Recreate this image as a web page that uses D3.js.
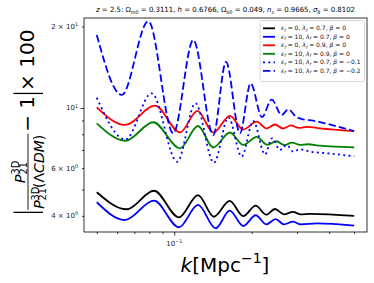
<!DOCTYPE html>
<html><head><meta charset="utf-8">
<script src="https://cdn.jsdelivr.net/npm/d3@7"></script>
<style>body{margin:0;background:#fff}svg{display:block;font-family:"DejaVu Sans",sans-serif}</style>
</head><body><svg id="c" width="374" height="283"></svg>
<script>
// ---- data (k in Mpc^-1, values = |P/P_LCDM - 1| x 100) ----
const kBlack = [0.05,0.0653,0.0834,0.1043,0.1237,0.1426,0.1642,0.1854,0.2072,0.2278,0.2462,0.2669,0.2892,0.3099,0.3385,0.5];
const vBlack = [4.89,4.23,4.95,3.95,4.77,3.97,4.54,3.99,4.36,4.04,4.24,4.05,4.14,4.05,4.07,4.0];
const kBlue = [0.05,0.0642,0.0834,0.1043,0.1237,0.1449,0.1642,0.1854,0.2072,0.2278,0.2477,0.2669,0.2892,0.3099,0.3594,0.5];
const vBlue = [4.49,3.86,4.55,3.63,4.39,3.60,4.18,3.67,4.02,3.72,3.89,3.72,3.81,3.72,3.75,3.68];
const kRed = [0.05,0.0644,0.0842,0.1053,0.1231,0.1418,0.1646,0.1854,0.2090,0.2286,0.2462,0.2645,0.2841,0.3052,0.3279,0.3684,0.5];
const vRed = [10.06,8.66,10.2,8.13,9.76,8.12,9.36,8.33,8.90,8.41,8.69,8.40,8.62,8.44,8.52,8.41,8.22];
const kGreen = [0.05,0.0646,0.0829,0.1053,0.1237,0.1418,0.1646,0.1854,0.2090,0.2302,0.2495,0.2681,0.2867,0.3080,0.3308,0.3684,0.5];
const vGreen = [8.78,7.57,8.86,7.10,8.58,7.15,8.12,7.31,7.83,7.31,7.54,7.29,7.45,7.31,7.35,7.26,7.16];
const kDot = [0.05,0.0646,0.0817,0.1027,0.1209,0.1426,0.1624,0.1828,0.2028,0.2252,0.2397,0.2575,0.2734,0.2900,0.3080,0.3368,0.3911,0.5];
const vDot = [10.91,7.65,11.33,6.33,10.41,6.28,9.22,6.62,8.95,6.74,7.73,7.00,7.31,6.90,7.04,6.90,6.81,6.63];
const kDash = [0.05,0.0625,0.0793,0.0991,0.1186,0.1418,0.1589,0.18,0.1981,0.2192,0.2390,0.2615,0.2773,0.2971,0.3172,0.3465,0.3852,0.4337,0.5];
const vDash = [18.6,11.17,20.9,8.07,17.8,7.95,14.8,8.07,12.33,9.26,10.73,9.42,9.89,9.29,9.08,8.98,8.78,8.53,8.22];

const epsLabels = ["0","10","0","10","10","10"];
const lamLabels = ["0.7","0.7","0.9","0.9","0.7","0.7"];
const betaLabels = ["0","0","0","0","\u22120.1","\u22120.2"];
const xMajorTicks = [0.1];
const xMinorTicks = [0.05,0.06,0.07,0.08,0.09,0.2,0.3,0.4,0.5];
const yMajorTicks = [10];
const yMinorTicks = [4,5,6,7,8,9,20];
const yTickLabels = [[20,"2 \u00d7 10","1"],[10,"10","1"],[6,"6 \u00d7 10","0"],[4,"4 \u00d7 10","0"]];

const seriesDefs = [
  {k:kBlack, v:vBlack, color:"#000000", dash:null},
  {k:kBlue, v:vBlue, color:"#0000ff", dash:null},
  {k:kRed, v:vRed, color:"#ff0000", dash:null},
  {k:kGreen, v:vGreen, color:"#008000", dash:null},
  {k:kDot, v:vDot, color:"#0000ff", dash:"2,3.3"},
  {k:kDash, v:vDash, color:"#0000ff", dash:"7.4,3.2"}
];

const svg = d3.select('#c');
const L=84,R=367,T=18,B=232;
const x = d3.scaleLog().domain([0.0446,0.561]).range([L,R]);
const y = d3.scaleLog().domain([3.487,21.48]).range([B,T]);

function measure(str,size,italic){
  const t=svg.append('text').attr('font-size',size).text(str);
  if(italic) t.attr('font-style','italic');
  const w=t.node().getComputedTextLength(); t.remove(); return w;
}
function rich(parent,x0,y0,parts,fs,anchor){
  const t=parent.append('text').attr('x',x0).attr('y',y0).attr('font-size',fs).attr('text-anchor',anchor||'start');
  let cur=0;
  parts.forEach(p=>{
    let off=0,size=fs;
    if(p.s==='sup'){off=-(p.up||0.42)*fs;size=fs*0.7;}
    else if(p.s==='sub'){off=(p.dn||0.22)*fs;size=fs*0.7;}
    const ts=t.append('tspan').text(p.t).attr('dy',(off-cur).toFixed(2)).attr('font-size',size.toFixed(2));
    if(p.i) ts.attr('font-style','italic');
    if(p.dx) ts.attr('dx',p.dx.toFixed(2));
    cur=off;
  });
  return t;
}

// lines
const line = d3.line().x(d=>x(d[0])).y(d=>y(d[1])).curve(d3.curveMonotoneX);
seriesDefs.forEach(s=>{
  const pts = s.k.map((k,i)=>[k,s.v[i]]);
  const p = svg.append('path').attr('d',line(pts)).attr('fill','none')
    .attr('stroke',s.color).attr('stroke-width',1.8).attr('stroke-linejoin','round');
  if(s.dash) p.attr('stroke-dasharray',s.dash);
});

// axes
const gx = svg.append('g').attr('transform',`translate(0,${B})`);
gx.call(d3.axisBottom(x).tickValues(xMajorTicks).tickSize(3.5).tickSizeOuter(0).tickFormat(''));
const gx2 = svg.append('g').attr('transform',`translate(0,${B})`);
gx2.call(d3.axisBottom(x).tickValues(xMinorTicks).tickSize(2).tickSizeOuter(0).tickFormat(''));
const gy = svg.append('g').attr('transform',`translate(${L},0)`);
gy.call(d3.axisLeft(y).tickValues(yMajorTicks).tickSize(3.5).tickSizeOuter(0).tickFormat(''));
const gy2 = svg.append('g').attr('transform',`translate(${L},0)`);
gy2.call(d3.axisLeft(y).tickValues(yMinorTicks).tickSize(2).tickSizeOuter(0).tickFormat(''));
[gx,gx2,gy,gy2].forEach(g=>{g.select('.domain').remove(); g.selectAll('line').attr('stroke','#000').attr('stroke-width',0.8);});
svg.append('rect').attr('x',L).attr('y',T).attr('width',R-L).attr('height',B-T)
  .attr('fill','none').attr('stroke','#000').attr('stroke-width',0.8);

// tick labels
xMajorTicks.forEach(v=>rich(svg,x(v),245.5,[{t:'10'},{t:'\u22121',s:'sup'}],7,'middle').attr('fill','#222'));
yTickLabels.forEach(d=>rich(svg,78,y(d[0])+2.5,[{t:d[1]},{t:d[2],s:'sup'}],7,'end').attr('fill','#222'));

// title
rich(svg,225.5,12,[
  {t:'z',i:1},{t:' = 2.5: \u03a9'},{t:'m0',s:'sub'},{t:' = 0.3111, '},{t:'h',i:1},{t:' = 0.6766, \u03a9'},
  {t:'b0',s:'sub'},{t:' = 0.049, '},{t:'n',i:1},{t:'s',s:'sub',i:1},{t:' = 0.9665, '},{t:'\u03c3',i:1},{t:'8',s:'sub'},{t:' = 0.8102'}
],7.2,'middle').attr('textLength',259).attr('lengthAdjust','spacingAndGlyphs');

// x label
rich(svg,225,272,[{t:'k',i:1},{t:'[Mpc'},{t:'\u22121',s:'sup',up:0.45},{t:']'}],20,'middle');

// y label (rotated)
const yl = svg.append('g').attr('transform','translate(33.5,121.5) rotate(-90)');
const ylin = yl.append('g');
const fsM=20, fsF=14;
const wSup = measure('3D',fsF*0.7,false);
const numParts=[{t:'P',i:1},{t:'3D',s:'sup'},{t:'21',s:'sub',dn:0.16,dx:-wSup}];
const denParts=[{t:'P',i:1},{t:'3D',s:'sup',up:0.36},{t:'21',s:'sub',dn:0.16,dx:-wSup},{t:'(\u039b'},{t:'CDM',i:1},{t:')'}];
let cx=0;
const barL = cx+1; cx+=3.5;
const num = rich(ylin,0,-9,numParts,fsF); const wn = num.node().getBBox().width;
const den = rich(ylin,0,10.5,denParts,fsF); const wd = den.node().getBBox().width;
const fw = Math.max(wn,wd)+2;
num.attr('x',cx+(fw-wn)/2); den.attr('x',cx+(fw-wd)/2);
ylin.append('line').attr('x1',cx).attr('x2',cx+fw).attr('y1',-5.5).attr('y2',-5.5).attr('stroke','#000').attr('stroke-width',0.9);
cx+=fw+2;
const m1 = rich(ylin,cx,0,[{t:'\u2212 1'}],fsM); cx+=m1.node().getBBox().width+1.5;
const barR = cx+1; cx+=3.5;
const m2 = rich(ylin,cx,0,[{t:' \u00d7 100'}],fsM); cx+=m2.node().getBBox().width;
[barL,barR].forEach(bx=>ylin.append('line').attr('x1',bx).attr('x2',bx).attr('y1',-20).attr('y2',9.5).attr('stroke','#000').attr('stroke-width',1.3));
ylin.attr('transform',`translate(${-cx/2},0)`);

// legend
const lg = svg.append('g');
lg.append('rect').attr('x',260).attr('y',20.5).attr('width',104.5).attr('height',61).attr('rx',2)
  .attr('fill','#fff').attr('fill-opacity',0.8).attr('stroke','#cccccc').attr('stroke-width',0.8);
seriesDefs.forEach((s,i)=>{
  const yy = 28.3 + i*8.5;
  const l = lg.append('line').attr('x1',263).attr('x2',275).attr('y1',yy).attr('y2',yy)
    .attr('stroke',s.color).attr('stroke-width',1.8);
  if(s.dash) l.attr('stroke-dasharray',s.dash);
  rich(lg,281,yy+2.1,[
    {t:'\u03b5',i:1},{t:'f',s:'sub',i:1},{t:' = '+epsLabels[i]+', '},{t:'\u03bb',i:1},{t:'f',s:'sub',i:1},
    {t:' = '+lamLabels[i]+', '},{t:'\u03b2',i:1},{t:' = '+betaLabels[i]}
  ],6,'start').attr('fill','#111');
});
</script></body></html>
